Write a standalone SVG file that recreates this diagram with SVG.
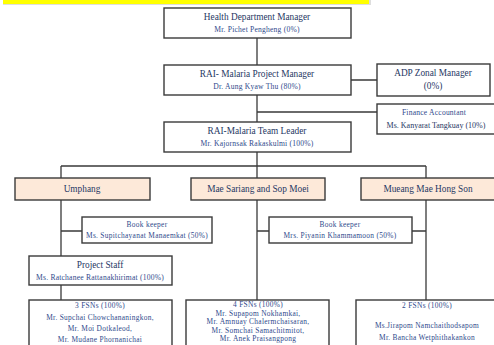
<svg xmlns="http://www.w3.org/2000/svg" width="494" height="345" viewBox="0 0 494 345">
<style>
.box{fill:#fff;stroke:#3a3a3a;stroke-width:1.4}
.loc{fill:#fde9d9;stroke:#3a3a3a;stroke-width:1.4}
.ln{stroke:#3a3a3a;stroke-width:1.3;fill:none}
text{font-family:"Liberation Serif","DejaVu Serif",serif;text-anchor:middle}
.t{font-size:9.3px;fill:#1f3864}
.n{font-size:7.6px;fill:#2f4a8c;letter-spacing:0.2px}
.s{font-size:7.4px;fill:#2f4a8c;letter-spacing:0.3px}
</style>
<rect x="3" y="-2" width="368" height="7" fill="#c8c8c8" opacity="0.6"/>
<rect x="3" y="-2" width="366" height="6" fill="#ffff00"/>
<g id="connectors">
<path class="ln" d="M257 38V122M351 80H377M257 112H377M257 152V166M61 166H426M61 166V178M257 166V178M426 166V178M61 200V300M257 200V300M426 200V300M61 231H82M257 231H269M412 231H426"/>
</g>
<g id="health">
<rect class="box" x="164" y="8" width="187" height="30"/>
<text class="t" x="257" y="20">Health Department Manager</text>
<text class="n" x="257" y="32">Mr. Pichet Pengheng  (0%)</text>
</g>
<g id="pm">
<rect class="box" x="164" y="65" width="187" height="30"/>
<text class="t" x="257" y="77">RAI- Malaria Project Manager</text>
<text class="n" x="257" y="89">Dr. Aung Kyaw Thu (80%)</text>
</g>
<g id="adp">
<rect class="box" x="377" y="64" width="113" height="32"/>
<text class="t" x="433" y="76">ADP Zonal Manager</text>
<text class="t" x="433" y="89">(0%)</text>
</g>
<g id="finance">
<rect class="box" x="377" y="104" width="120" height="30"/>
<text class="n" x="434" y="115">Finance Accountant</text>
<text class="t" x="436" y="128" style="font-size:8px">Ms. Kanyarat Tangkuay (10%)</text>
</g>
<g id="leader">
<rect class="box" x="164" y="122" width="187" height="30"/>
<text class="t" x="257" y="134">RAI-Malaria Team Leader</text>
<text class="n" x="257" y="146">Mr. Kajornsak Rakaskulmi (100%)</text>
</g>
<g id="umphang">
<rect class="loc" x="15" y="178" width="135" height="22"/>
<text class="t" x="82" y="192">Umphang</text>
</g>
<g id="maesariang">
<rect class="loc" x="191" y="178" width="134" height="22"/>
<text class="t" x="258" y="192">Mae Sariang and Sop Moei</text>
</g>
<g id="mueang">
<rect class="loc" x="361" y="178" width="136" height="22"/>
<text class="t" x="428" y="192">Mueang Mae Hong Son</text>
</g>
<g id="bk1">
<rect class="box" x="82" y="217" width="130" height="26"/>
<text class="s" x="147" y="227">Book keeper</text>
<text class="s" x="147" y="238">Ms. Supitchayanat Manaemkat (50%)</text>
</g>
<g id="bk2">
<rect class="box" x="269" y="217" width="143" height="26"/>
<text class="s" x="340" y="227">Book keeper</text>
<text class="s" x="340" y="238">Mrs. Piyanin Khammamoon (50%)</text>
</g>
<g id="staff">
<rect class="box" x="29" y="256" width="143" height="29"/>
<text class="t" x="100" y="268">Project Staff</text>
<text class="n" x="100" y="280">Ms. Ratchanee  Rattanakhirimat  (100%)</text>
</g>
<g id="fsn1">
<rect class="box" x="29" y="300" width="143" height="50"/>
<text class="s" x="100" y="308">3 FSNs (100%)</text>
<text class="s" x="100" y="320">Mr. Supchai  Chowchananingkon,</text>
<text class="s" x="100" y="331">Mr. Moi Dotkaleod,</text>
<text class="s" x="100" y="342">Mr. Mudane Phornanichai</text>
</g>
<g id="fsn2">
<rect class="box" x="186" y="300" width="143" height="50"/>
<text class="s" x="258" y="307">4 FSNs (100%)</text>
<text class="s" x="258" y="315.5">Mr. Supapom Nokhamkai,</text>
<text class="s" x="258" y="324">Mr. Amnuay Chalermchaisaran,</text>
<text class="s" x="258" y="332.5">Mr. Somchai Samachitmitot,</text>
<text class="s" x="258" y="341">Mr. Anek Praisangpong</text>
</g>
<g id="fsn3">
<rect class="box" x="356" y="300" width="145" height="50"/>
<text class="s" x="427" y="308">2 FSNs (100%)</text>
<text class="s" x="427" y="328">Ms.Jirapom Namchaithodsapom</text>
<text class="s" x="427" y="340">Mr. Bancha Wetphithakankon</text>
</g>
</svg>
